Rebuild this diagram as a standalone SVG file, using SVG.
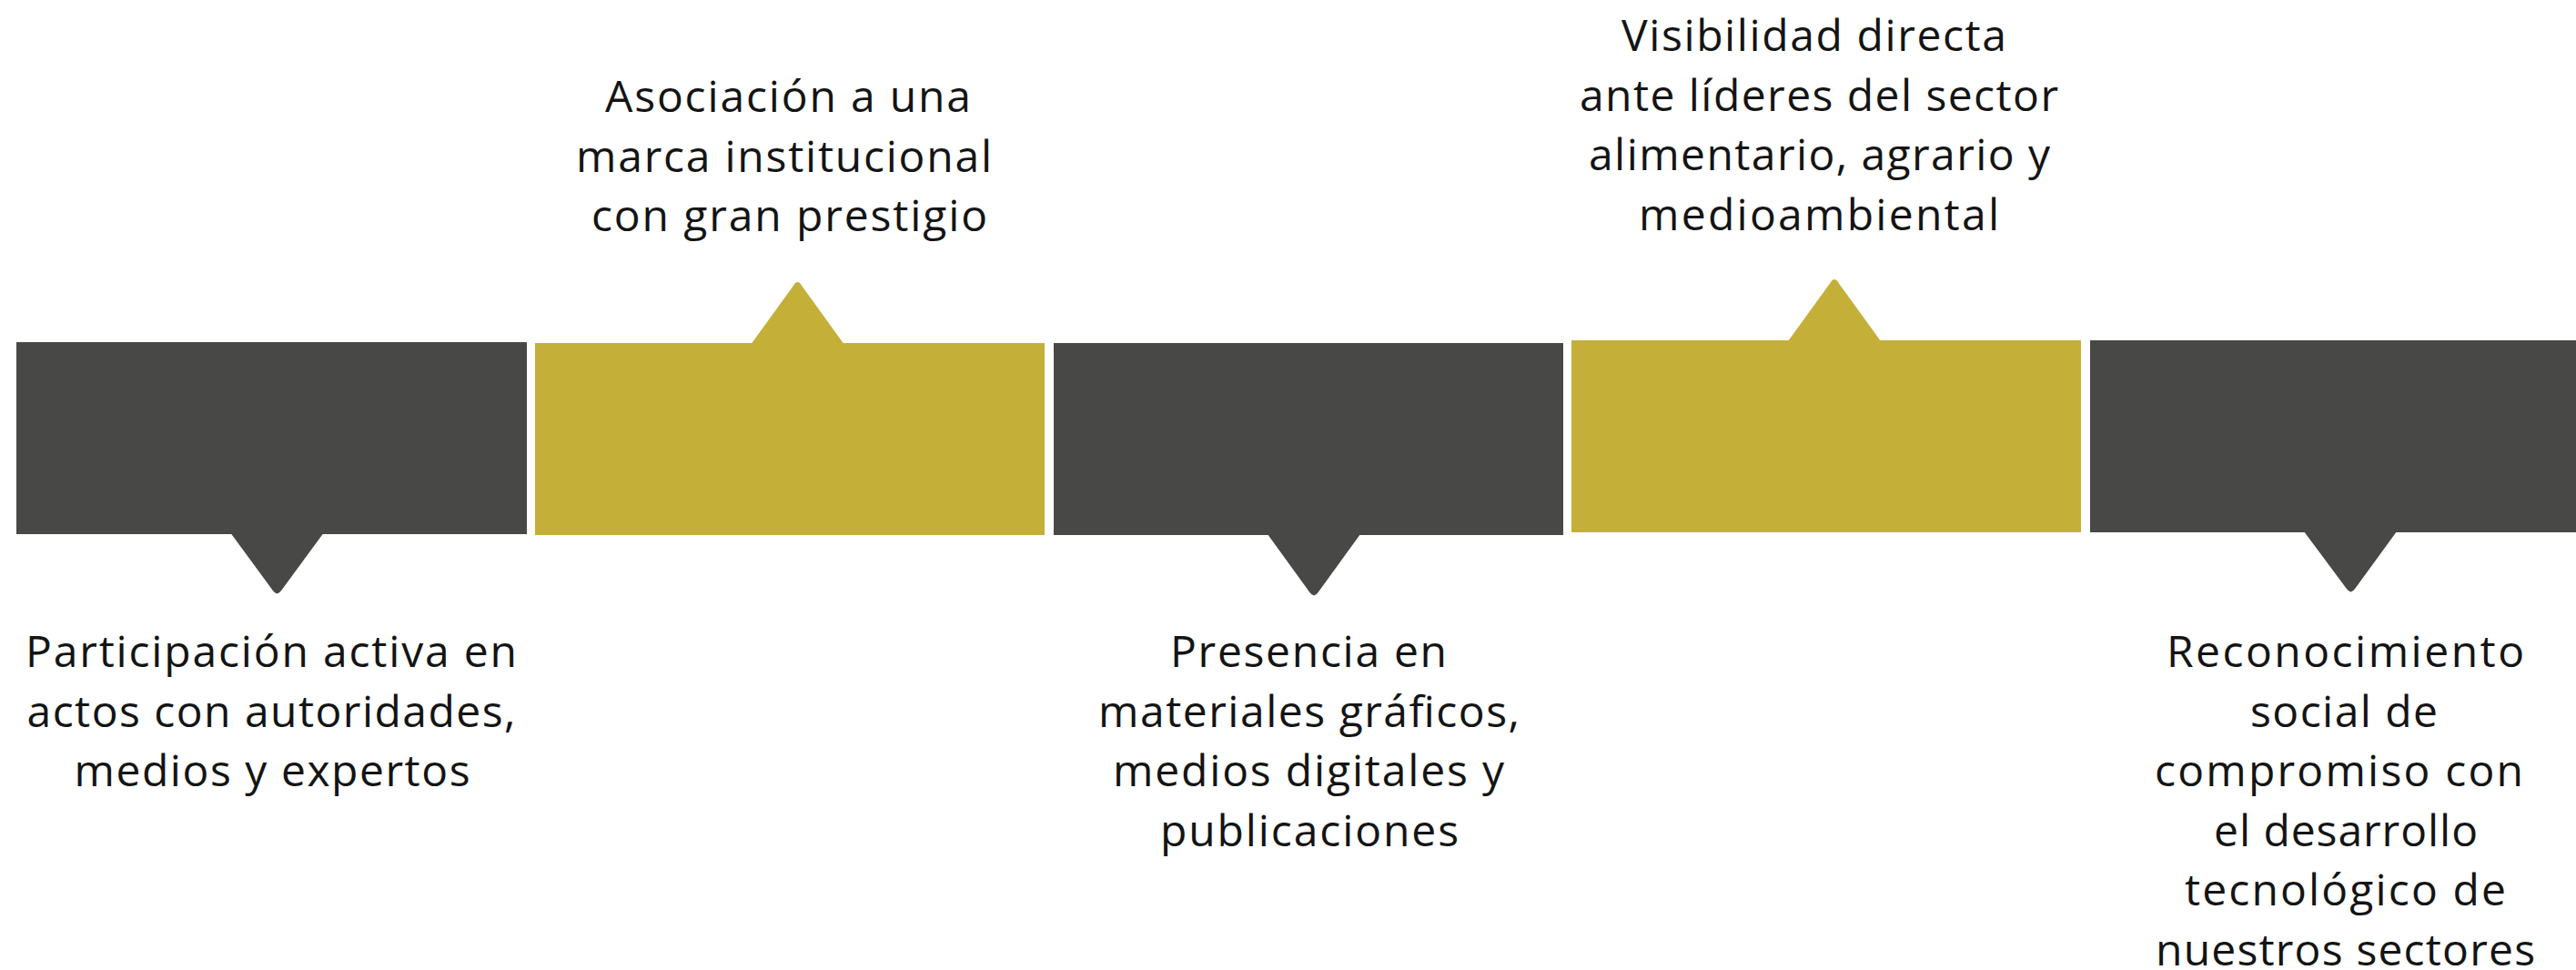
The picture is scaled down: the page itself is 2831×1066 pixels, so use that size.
<svg xmlns="http://www.w3.org/2000/svg" width="2831" height="1066" viewBox="0 0 2831 1066">
<style>
.dark{fill:#484846}
.gold{fill:#c4af39}
.lbl{font-family:"Open Sans","Liberation Sans",sans-serif;font-size:48px;fill:#141414;text-anchor:middle}
</style>
<rect width="2831" height="1066" fill="#ffffff"/>
<g id="node1">
<rect class="dark" x="18" y="376" width="561" height="211"/>
<path class="dark" d="M253.6,586 L299.7,648.8 Q304.5,656 309.3,648.8 L355.4,586 Z"/>
<text class="lbl"><tspan x="298" y="733" textLength="540">Participación activa en</tspan><tspan x="298" y="798.6" textLength="537">actos con autoridades,</tspan><tspan x="299" y="864.2" textLength="435">medios y expertos</tspan></text>
</g>
<g id="node2">
<rect class="gold" x="588" y="377" width="560" height="211"/>
<path class="gold" d="M825.6,378 L871.7,314.2 Q876.5,306 881.3,314.2 L927.4,378 Z"/>
<text class="lbl"><tspan x="866" y="123" textLength="402">Asociación a una</tspan><tspan x="861.5" y="188.6" textLength="457">marca institucional</tspan><tspan x="867.5" y="254.2" textLength="435">con gran prestigio</tspan></text>
</g>
<g id="node3">
<rect class="dark" x="1158" y="377" width="560" height="211"/>
<path class="dark" d="M1393,587 L1439.2,650.8 Q1444,658 1448.8,650.8 L1495,587 Z"/>
<text class="lbl"><tspan x="1438" y="733" textLength="304">Presencia en</tspan><tspan x="1438.5" y="798.6" textLength="463">materiales gráficos,</tspan><tspan x="1438" y="864.2" textLength="430">medios digitales y</tspan><tspan x="1439" y="929.8" textLength="328">publicaciones</tspan></text>
</g>
<g id="node4">
<rect class="gold" x="1727" y="374" width="560" height="211"/>
<path class="gold" d="M1965,375 L2011.2,311.2 Q2016,303 2020.8,311.2 L2067,375 Z"/>
<text class="lbl"><tspan x="1993.5" y="56" textLength="423">Visibilidad directa</tspan><tspan x="1999" y="121.6" textLength="526">ante líderes del sector</tspan><tspan x="1999.5" y="187.2" textLength="507">alimentario, agrario y</tspan><tspan x="1999" y="252.8" textLength="396">medioambiental</tspan></text>
</g>
<g id="node5">
<rect class="dark" x="2297" y="374" width="534" height="211"/>
<path class="dark" d="M2532,584 L2578.7,646.8 Q2583.5,654 2588.3,646.8 L2634,584 Z"/>
<text class="lbl"><tspan x="2577.5" y="733" textLength="393">Reconocimiento</tspan><tspan x="2576" y="798.6" textLength="206">social de</tspan><tspan x="2570.5" y="864.2" textLength="405">compromiso con</tspan><tspan x="2578" y="929.8" textLength="290">el desarrollo</tspan><tspan x="2577.5" y="995.4" textLength="353">tecnológico de</tspan><tspan x="2577.5" y="1061" textLength="417">nuestros sectores</tspan></text>
</g>
<g id="connectors"/>
</svg>
